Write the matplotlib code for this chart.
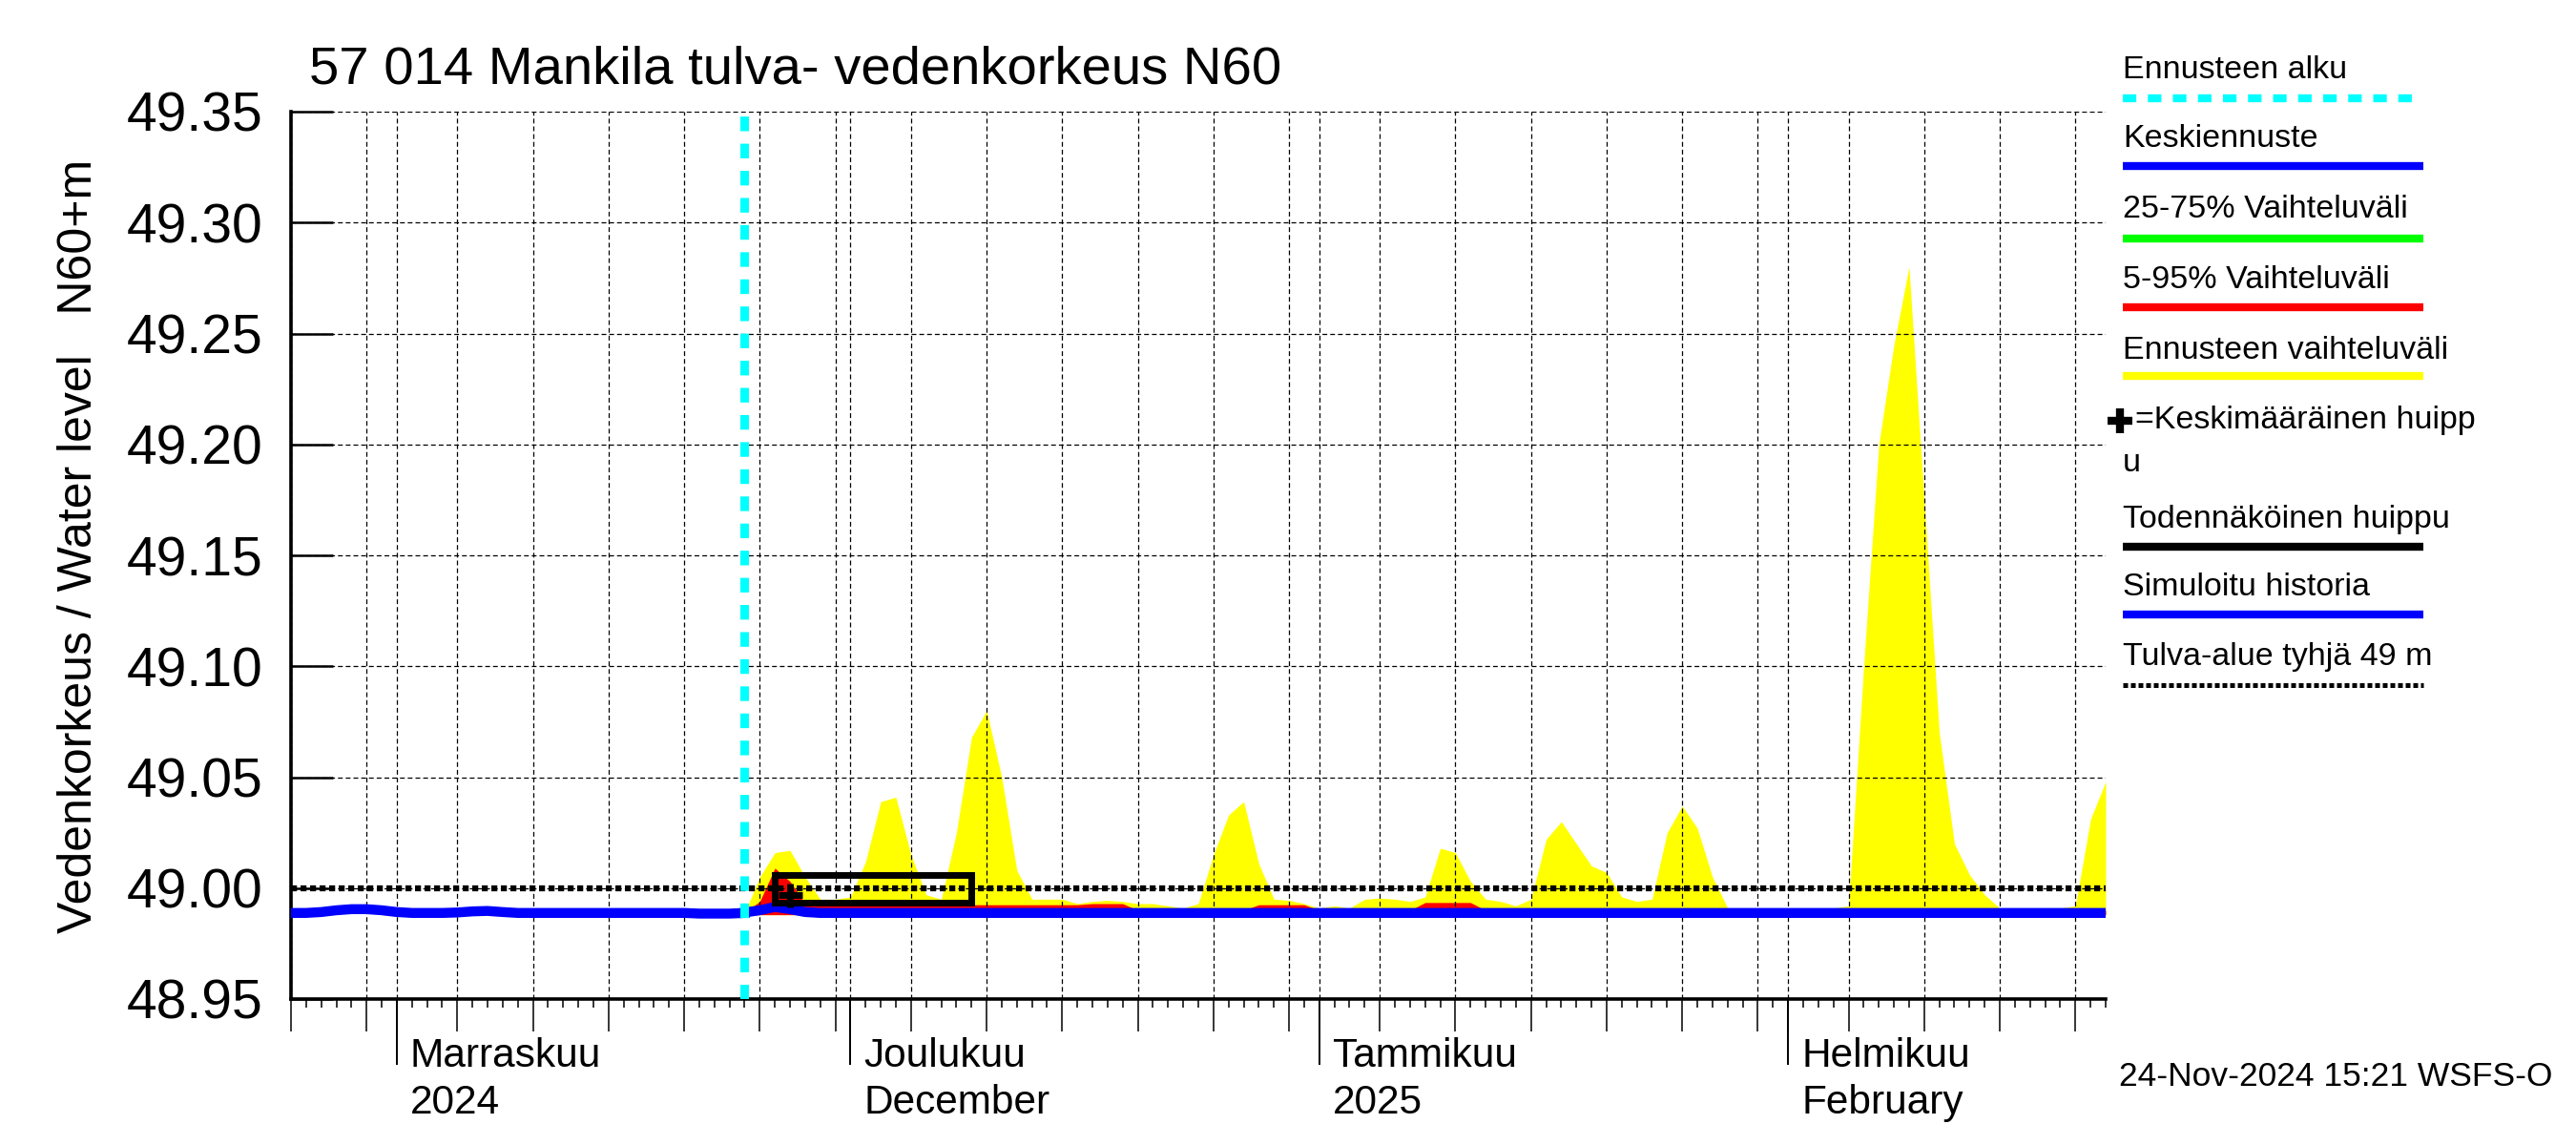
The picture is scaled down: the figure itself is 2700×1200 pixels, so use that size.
import matplotlib
matplotlib.use('Agg')
import matplotlib.pyplot as plt
import matplotlib.dates as mdates
from matplotlib.lines import Line2D
from matplotlib.patches import Rectangle
from matplotlib.ticker import NullFormatter, FormatStrFormatter
import pandas as pd

plt.rcParams['font.family'] = ['Liberation Sans', 'DejaVu Sans']

# --- data ---
title = '57 014 Mankila tulva- vedenkorkeus N60'
ylabel = 'Vedenkorkeus / Water level   N60+m'
stamp = '24-Nov-2024 15:21 WSFS-O'

x_start = '2024-10-25'
x_end = '2025-02-22'
level_ticks = [48.95, 49.00, 49.05, 49.10, 49.15, 49.20, 49.25, 49.30, 49.35]

month_starts = ['2024-11-01', '2024-12-01', '2025-01-01', '2025-02-01']
month_labels = ['Marraskuu\n2024', 'Joulukuu\nDecember', 'Tammikuu\n2025', 'Helmikuu\nFebruary']

# simulated history, daily from 25.10.
hist_start = '2024-10-25'
hist_level = [48.9888, 48.9888, 48.9892, 48.9900, 48.9905, 48.9905, 48.9900, 48.9892,
              48.9888, 48.9888, 48.9888, 48.9890, 48.9895, 48.9897, 48.9892, 48.9888,
              48.9888, 48.9888, 48.9888, 48.9888, 48.9888, 48.9888, 48.9888, 48.9888,
              48.9888, 48.9888, 48.9888, 48.9885, 48.9885, 48.9885, 48.9888]

# forecast, daily from 24.11.
forecast_start = '2024-11-24'
fc_median = [48.9890, 48.9900, 48.9915, 48.9905, 48.9892, 48.9888, 48.9888, 48.9888,
             48.9888, 48.9888, 48.9888, 48.9888, 48.9888, 48.9888, 48.9888, 48.9888,
             48.9888, 48.9888, 48.9888, 48.9888, 48.9888, 48.9888, 48.9888, 48.9888,
             48.9888, 48.9888, 48.9888, 48.9888, 48.9888, 48.9888, 48.9888, 48.9888,
             48.9888, 48.9888, 48.9888, 48.9888, 48.9888, 48.9888, 48.9888, 48.9888,
             48.9888, 48.9888, 48.9888, 48.9888, 48.9888, 48.9888, 48.9888, 48.9888,
             48.9888, 48.9888, 48.9888, 48.9888, 48.9888, 48.9888, 48.9888, 48.9888,
             48.9888, 48.9888, 48.9888, 48.9888, 48.9888, 48.9888, 48.9888, 48.9888,
             48.9888, 48.9888, 48.9888, 48.9888, 48.9888, 48.9888, 48.9888, 48.9888,
             48.9888, 48.9888, 48.9888, 48.9888, 48.9888, 48.9888, 48.9888, 48.9888,
             48.9888, 48.9888, 48.9888, 48.9888, 48.9888, 48.9888, 48.9888, 48.9888,
             48.9888, 48.9888, 48.9888]
fc_range_top = [48.989, 49.005, 49.016, 49.017, 49.005, 48.995, 48.995, 48.996,
                49.012, 49.039, 49.041, 49.015, 48.997, 48.995, 49.025, 49.068,
                49.080, 49.050, 49.008, 48.995, 48.995, 48.995, 48.993, 48.994,
                48.9945, 48.994, 48.993, 48.993, 48.992, 48.991, 48.993, 49.015,
                49.033, 49.039, 49.011, 48.995, 48.9945, 48.993, 48.991, 48.992,
                48.991, 48.995, 48.9955, 48.995, 48.994, 48.996, 49.018, 49.016,
                49.003, 48.995, 48.994, 48.992, 48.995, 49.022, 49.030, 49.020,
                49.010, 49.007, 48.996, 48.994, 48.995, 49.025, 49.037, 49.027,
                49.005, 48.991, 48.991, 48.991, 48.991, 48.991, 48.991, 48.991,
                48.991, 48.992, 49.100, 49.200, 49.245, 49.280, 49.175, 49.070,
                49.020, 49.006, 48.997, 48.991, 48.991, 48.991, 48.991, 48.991,
                48.992, 49.031, 49.048]
fc_5_95_top = [48.989, 48.994, 49.009, 49.003, 48.993, 48.9925, 48.9925, 48.9925,
               48.9925, 48.9925, 48.9925, 48.9925, 48.9925, 48.9925, 48.9925, 48.9925,
               48.9925, 48.9925, 48.9925, 48.9925, 48.9925, 48.9925, 48.9925, 48.993,
               48.993, 48.993, 48.990, 48.990, 48.990, 48.990, 48.990, 48.990,
               48.990, 48.990, 48.9925, 48.9925, 48.9925, 48.9925, 48.990, 48.990,
               48.990, 48.990, 48.990, 48.990, 48.990, 48.9935, 48.9935, 48.9935,
               48.9935, 48.990, 48.990, 48.990, 48.990, 48.990, 48.990, 48.990,
               48.990, 48.990, 48.990, 48.990, 48.990, 48.990, 48.990, 48.990,
               48.990, 48.990, 48.990, 48.990, 48.990, 48.990, 48.990, 48.990,
               48.990, 48.990, 48.990, 48.990, 48.990, 48.990, 48.990, 48.990,
               48.990, 48.990, 48.990, 48.990, 48.990, 48.990, 48.990, 48.990,
               48.990, 48.990, 48.990]
range_floor = 48.988

# most probable peak window and mean peak
peak_window = ['2024-11-26', '2024-12-09']
peak_levels = [48.9935, 49.006]
mean_peak_date = '2024-11-27'
mean_peak_level = 48.997

flood_empty_level = 49.00

# --- figure ---
fig = plt.figure(figsize=(27, 12), dpi=100)
ax = fig.add_axes([0.11296, 0.1275, 0.70444, 0.775])

hist_dates = pd.date_range(hist_start, periods=len(hist_level), freq='D')
fc_dates = pd.date_range(forecast_start, periods=len(fc_range_top), freq='D')

ax.fill_between(fc_dates, range_floor, fc_range_top, color='#ffff00', lw=0, zorder=1)
ax.fill_between(fc_dates, range_floor, fc_5_95_top, color='#ff0000', lw=0, zorder=1.1)
ax.axhline(flood_empty_level, color='black', lw=4.5, linestyle=(0, (1, 0.6)), zorder=3)
ax.plot(hist_dates, hist_level, color='#0000ff', lw=7.5, zorder=3.2)
ax.plot(fc_dates, fc_median, color='#0000ff', lw=7.5, zorder=3.2)

p0 = mdates.date2num(pd.Timestamp(peak_window[0]))
p1 = mdates.date2num(pd.Timestamp(peak_window[1]))
ax.add_patch(Rectangle((p0, peak_levels[0]), p1 - p0, peak_levels[1] - peak_levels[0],
                       fill=False, edgecolor='black', lw=5, zorder=4))
ax.plot([pd.Timestamp(mean_peak_date)], [mean_peak_level], marker='+', ms=18, mew=5,
        color='black', zorder=4)
ax.axvline(pd.Timestamp(forecast_start), color='#00ffff', lw=6.5,
           linestyle=(0, (1.7, 1.45)), zorder=5)

ax.set_xlim(pd.Timestamp(x_start), pd.Timestamp(x_end))
ax.set_ylim(level_ticks[0], level_ticks[-1])

# axes styling
ax.set_axisbelow(False)
ax.grid(True, which='major', color='black', lw=0.9, linestyle=(0, (4, 2.5)))
for s in ['top', 'right']:
    ax.spines[s].set_visible(False)
for s in ['left', 'bottom']:
    ax.spines[s].set_linewidth(2.6)

ax.set_yticks(level_ticks)
ax.yaxis.set_major_formatter(FormatStrFormatter('%.2f'))
ax.tick_params(axis='y', direction='in', length=32, width=1.8, labelsize=41, pad=21)

ax.xaxis.set_major_locator(mdates.DayLocator(bymonthday=[1, 5, 10, 15, 20, 25, 30]))
ax.xaxis.set_minor_locator(mdates.DayLocator())
ax.xaxis.set_major_formatter(NullFormatter())
ax.tick_params(axis='x', which='major', direction='out', length=24.5, width=1.1)
ax.tick_params(axis='x', which='minor', direction='out', length=6.5, width=1.1)

# long month ticks
sec = ax.secondary_xaxis('bottom')
sec.xaxis.set_major_locator(mdates.MonthLocator())
sec.xaxis.set_minor_locator(matplotlib.ticker.NullLocator())
sec.tick_params(axis='x', direction='out', length=50, width=1.4, labelbottom=False)
sec.spines['bottom'].set_visible(False)

for d, lab in zip(month_starts, month_labels):
    ax.annotate(lab, xy=(mdates.date2num(pd.Timestamp(d)), 0),
                xycoords=('data', 'axes fraction'), xytext=(10, -29),
                textcoords='offset points', ha='left', va='top', fontsize=30.5,
                linespacing=1.27)

fig.text(324 / 2700, 1 - 87 / 1200, title, fontsize=40.5, va='baseline', ha='left')
fig.text(83 / 2700, 1 - 572 / 1200, ylabel, fontsize=36, rotation=90,
         ha='center', va='center')
fig.text(2221 / 2700, 1 - 1128 / 1200, stamp, fontsize=25.5, ha='left', va='center')

# legend on the right, drawn by hand
W, H = 2700.0, 1200.0
lx0, lx1 = 2225 / W, 2540 / W
legend_fs = 24.5
legend_items = [
    ('Ennusteen alku', 74, 103, dict(color='#00ffff', lw=6, linestyle=(0, (1.7, 1.45)))),
    ('Keskiennuste', 146, 174, dict(color='#0000ff', lw=6)),
    ('25-75% Vaihteluväli', 220, 250, dict(color='#00ff00', lw=6)),
    ('5-95% Vaihteluväli', 293, 322, dict(color='#ff0000', lw=6)),
    ('Ennusteen vaihteluväli', 367, 394, dict(color='#ffff00', lw=6)),
    ('Todennäköinen huippu', 544, 573, dict(color='black', lw=6)),
    ('Simuloitu historia', 616, 644, dict(color='#0000ff', lw=6)),
    ('Tulva-alue tyhjä 49 m', 689, 718, dict(color='black', lw=3.6, linestyle=(0, (1, 0.6)))),
]
for text, ty, ly, style in legend_items:
    fig.text(lx0, 1 - ty / H, text, fontsize=legend_fs, ha='left', va='center')
    fig.add_artist(Line2D([lx0, lx1], [1 - ly / H, 1 - ly / H],
                          transform=fig.transFigure, solid_capstyle='butt', **style))

fig.add_artist(Line2D([2222 / W], [1 - 441 / H], transform=fig.transFigure,
                      marker='+', ms=19, mew=6, color='black'))
fig.text(2238 / W, 1 - 441 / H, '=Keskimääräinen huipp', fontsize=legend_fs,
         ha='left', va='center')
fig.text(lx0, 1 - 486 / H, 'u', fontsize=legend_fs, ha='left', va='center')

fig.savefig('out.png', dpi=100)
